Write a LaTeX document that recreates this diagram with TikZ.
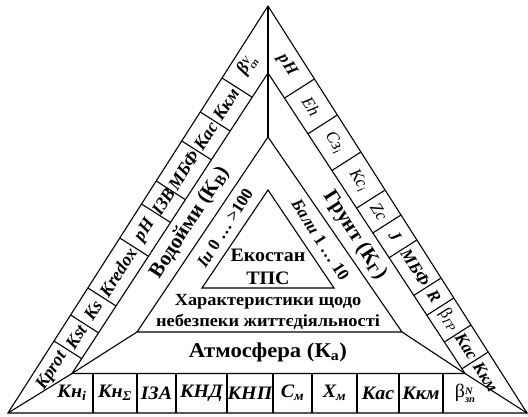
\documentclass[tikz,border=0pt]{standalone}
\usepackage{fontspec}
\setmainfont{Liberation Serif}
\usetikzlibrary{calc}
\newcommand{\supsub}[2]{\raisebox{-0.55ex}{\fontsize{10}{8}\selectfont\shortstack[l]{#1\\#2}}}
\begin{document}
\begin{tikzpicture}[x=1pt,y=1pt,line width=1.1pt]
\tikzset{
 lab/.style={inner sep=0pt},
 lc/.style={lab, rotate=57.4, font=\fontsize{18}{18}\selectfont\bfseries\itshape},
 rc/.style={lab, rotate=-57.5, font=\fontsize{17}{17}\selectfont\itshape},
 rcb/.style={lab, rotate=-57.5, font=\fontsize{17}{17}\selectfont\bfseries\itshape},
 bc/.style={lab, xscale=1.05, font=\fontsize{19}{19}\selectfont\bfseries\itshape},
 bigl/.style={lab, font=\fontsize{21}{21}\selectfont\bfseries},
 midl/.style={lab, font=\fontsize{17}{17}\selectfont\bfseries},
 cen/.style={lab, xscale=1.08, font=\fontsize{17}{17}\selectfont\bfseries},
 core/.style={lab, xscale=1.05, font=\fontsize{19}{19}\selectfont\bfseries},
}
\useasboundingbox (0,0) rectangle (528,417);
% triangles
\coordinate (A) at (268,411);
\coordinate (B) at (8,4);
\coordinate (C) at (527,4);
\coordinate (A2) at (268,344);
\coordinate (B2) at (72,43.5);
\coordinate (C2) at (465,43.5);
\coordinate (A3) at (268,280);
\coordinate (B3) at (137,85);
\coordinate (C3) at (402,85);
\coordinate (A4) at (268,227);
\coordinate (B4) at (202,129);
\coordinate (C4) at (334,129);
\draw (A)--(B)--(C)--cycle;
\draw (A2)--(B2)--(C2)--cycle;
\draw (A3)--(B3)--(C3)--cycle;
\draw (A4)--(B4)--(C4)--cycle;
\draw (A)--(A3);
\draw (B)--(B2)--(B3);
\draw (C)--(C2)--(C3);
% bottom cell dividers
\foreach \x in {93,137,176,227,273,312,357,399,443}
  \draw (\x,4)--(\x,43.5);
% left cell dividers
\foreach \a/\b/\c/\d in {54/76/81.5/58.5, 70.6/102/98.3/84.3, 87.9/129/115.9/111.1,
  119.8/179/148.3/160.8, 141.5/213/170.4/194.6, 156.2/236/185.3/217.4,
  181.8/276/211.3/257.2, 200.3/305/230.1/286, 222/339/252.1/319.8}
  \draw (\a,\b)--(\c,\d);
% right cell dividers
\foreach \a/\b/\c/\d in {314.45/338/284.5/318.9, 337.4/302/308/283.2, 360.9/265/332/246.5,
  385.1/227/356.7/208.9, 401/202/372.9/184.1, 416.9/177/389.3/159.4,
  441.1/139/414/121.7, 453.8/119/427/101.9, 471/92/444.6/75.1, 488.2/65/462.2/48.4}
  \draw (\a,\b)--(\c,\d);
% bottom labels
\node[bc] (b1) at (72,24) {Кн\textsubscript{i}};
\node[bc] (b2) at (115,24) {Кн\textsubscript{Σ}};
\node[bc] (b3) at (156.5,24) {ІЗА};
\node[bc] (b4) at (201.5,24) {КНД};
\node[bc] (b5) at (250,24) {КНП};
\node[bc] (b6) at (292.5,24) {С\textsubscript{м}};
\node[bc] (b7) at (334.5,24) {Х\textsubscript{м}};
\node[bc] (b8) at (378,24) {Кас};
\node[bc] (b9) at (421,24) {Ккм};
\node[bc] (b10) at (465,24) {{\upshape\mdseries β}\supsub{N}{зп}};
% left labels
\node[lc] (l1) at (52,46) {Kprot};
\node[lc] (l2) at (76.1,80.2) {Kst};
\node[lc] (l3) at (93.2,106.6) {Ks};
\node[lc] (l4) at (118,145) {Kredox};
\node[lc] (l5) at (145,186.8) {pH};
\node[lc] (l6) at (163.4,215.3) {ІЗВ};
\node[lc] (l7) at (183.7,246.7) {МБФ};
\node[lc] (l8) at (205.9,281) {Кас};
\node[lc] (l9) at (226.1,312.5) {Ккм};
\node[lc] (l10) at (247,352) {β\supsub{V}{сп}};
% right labels
\node[rcb] (r1) at (287,352) {pH};
\node[rc] (r2) at (311.1,310.5) {Eh};
\node[rc] (r3) at (334.6,274.2) {Сз\textsubscript{i}};
\node[rc] (r4) at (358.7,236.8) {Кс\textsubscript{i}};
\node[rc] (r5) at (378.9,205.5) {Zc};
\node[rcb] (r6) at (395,180.6) {J};
\node[rcb] (r7) at (415.3,149.3) {МБФ};
\node[rcb] (r8) at (434,120.4) {R};
\node[rc] (r9) at (449.1,97) {{\upshape β}\textsubscript{ГР}};
\node[rcb] (r10) at (466.5,70.4) {Кас};
\node[rcb] (r11) at (485.6,40.2) {Ккм};
% second layer
\node[bigl, rotate=57.4] (vod) at (190,194) {Водойми (К\textsubscript{В})};
\node[bigl, rotate=-57.5] (gru) at (355,182) {Грунт (К\textsubscript{Г})};
\node[bigl, xscale=1.08] (atm) at (268,65) {Атмосфера (К\textsubscript{а})};
% third layer
\node[midl, rotate=57.4] (iv) at (225,189) {\textit{Іи} 0 … >100};
\node[midl, rotate=-57.5] (bal) at (320.5,177) {\textit{Бали} 1 … 10};
\node[cen] (ch1) at (268,115) {Характеристики щодо};
\node[cen] (ch2) at (268,95) {небезпеки життєдіяльності};
% core
\node[core] (eko) at (268,162) {Екостан};
\node[core] (tps) at (268,139) {ТПС};
\end{tikzpicture}
\end{document}
